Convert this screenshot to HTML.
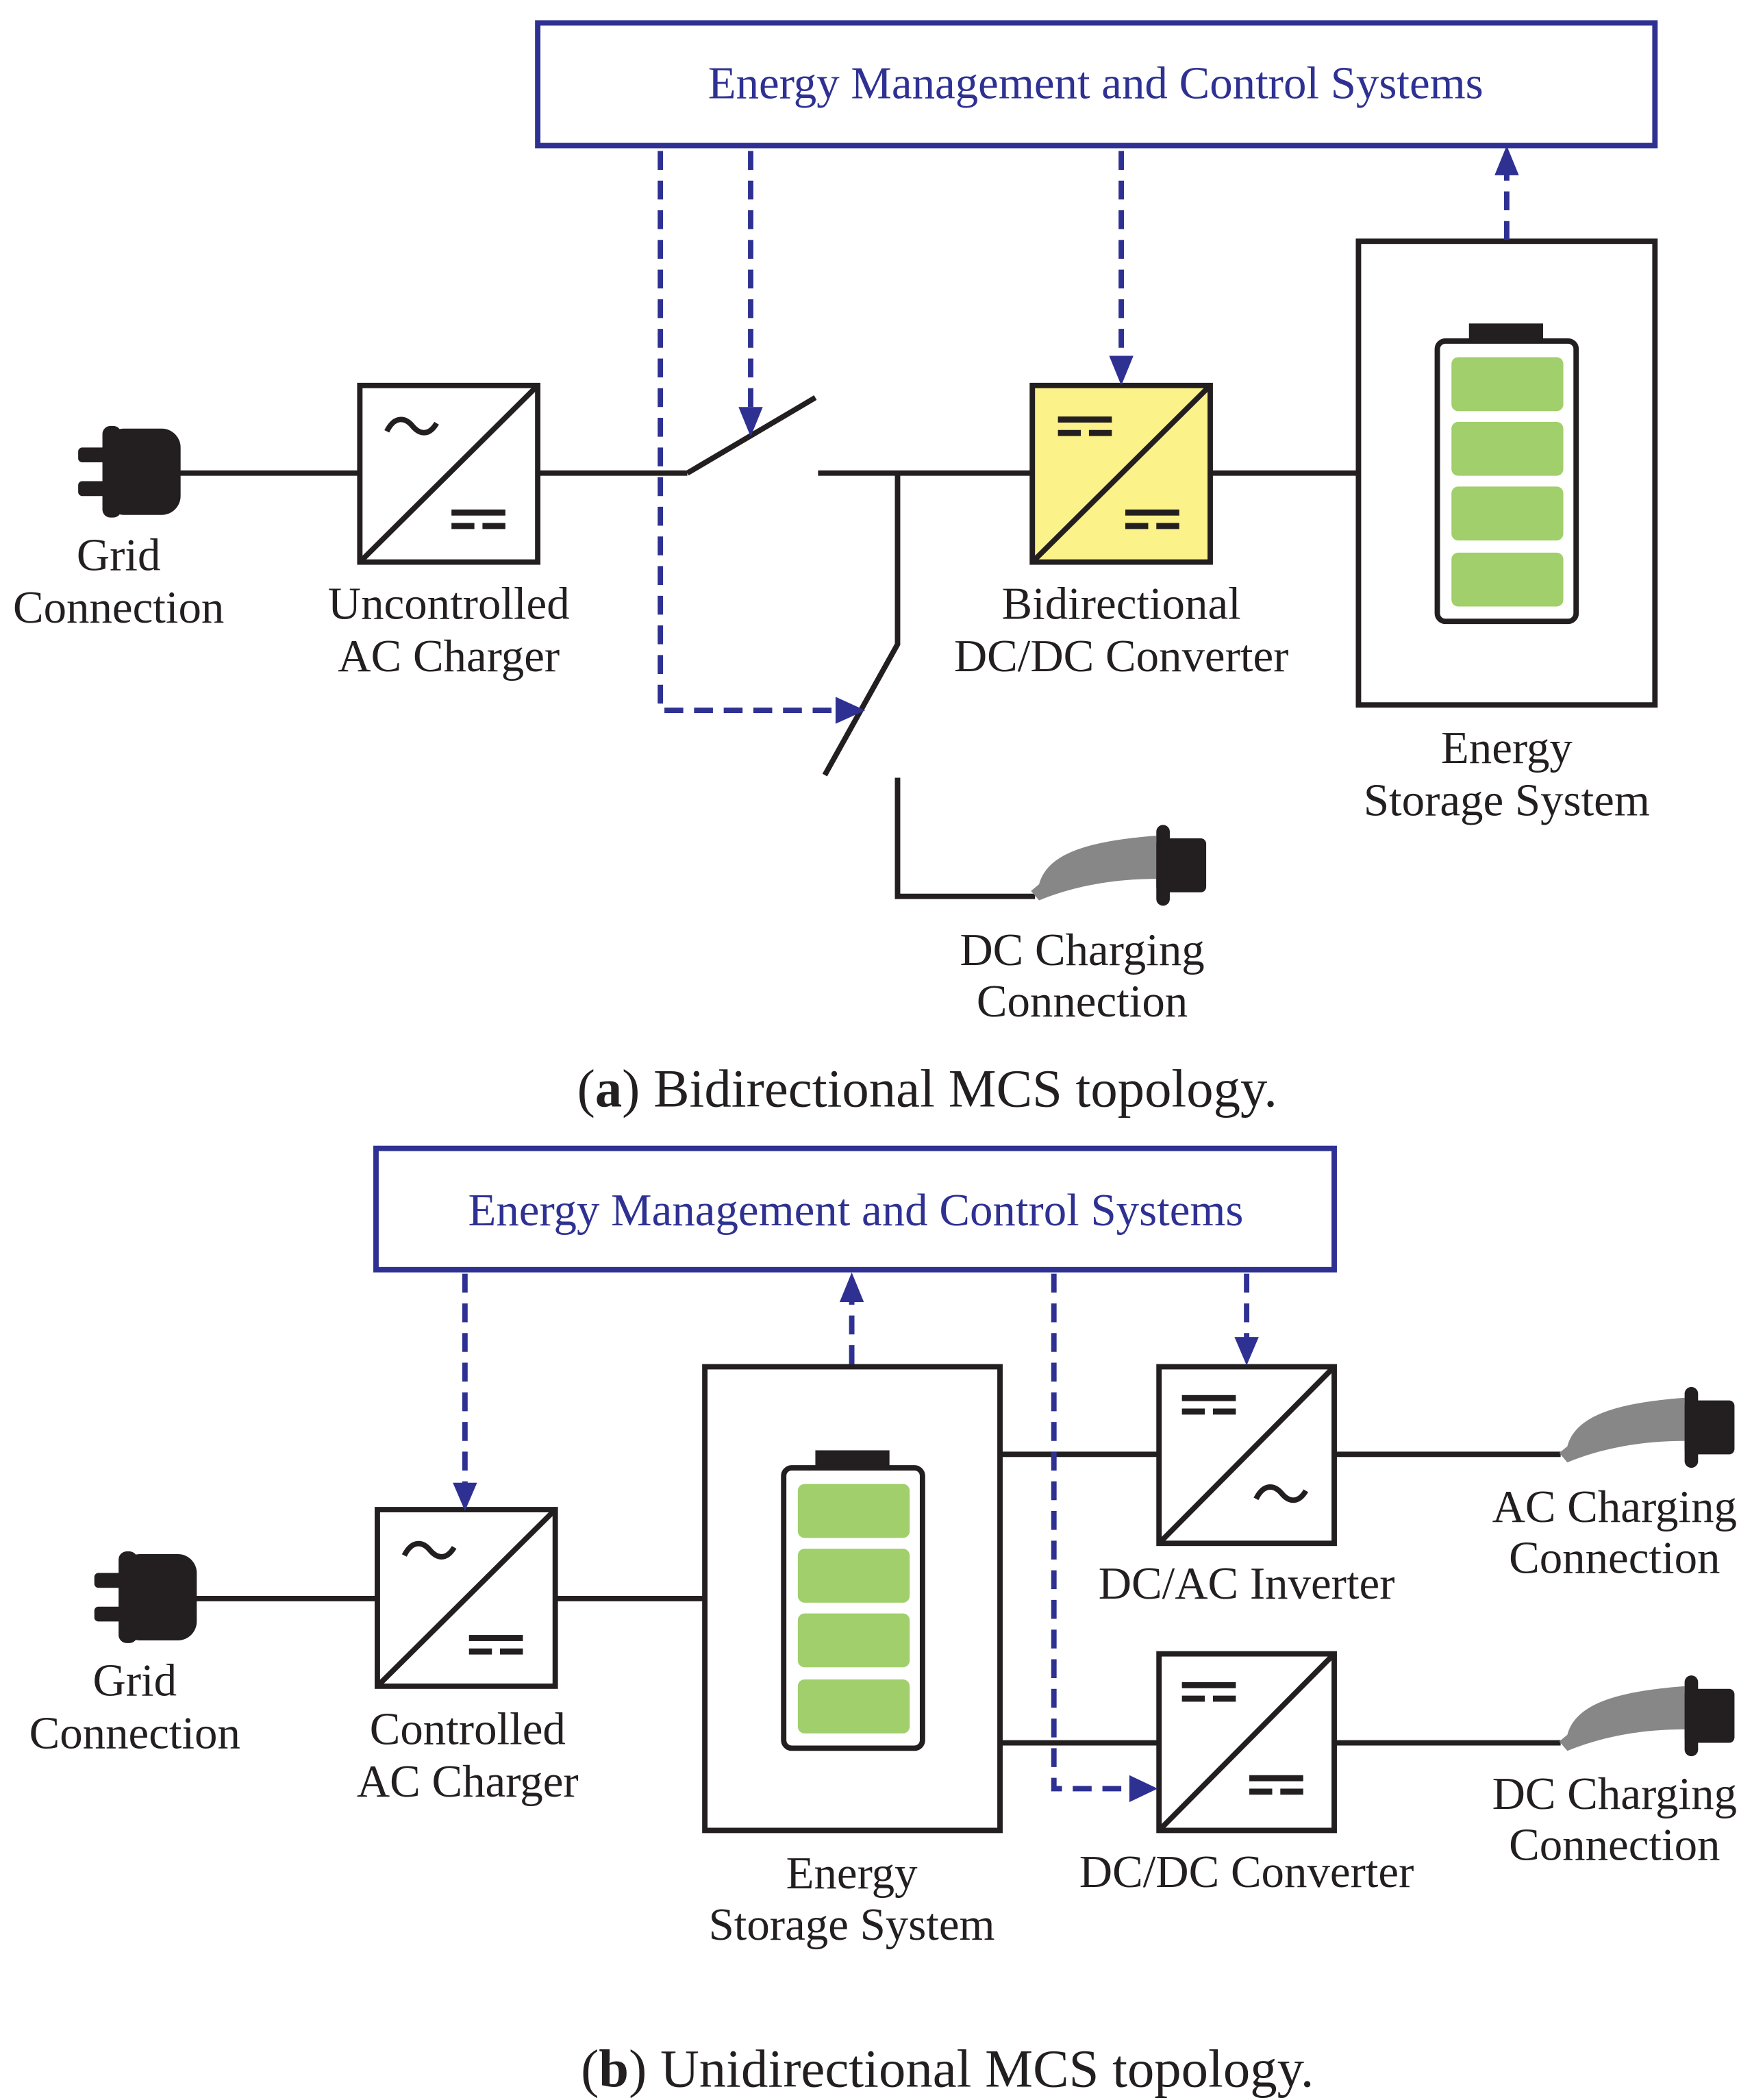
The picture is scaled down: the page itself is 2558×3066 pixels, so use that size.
<!DOCTYPE html>
<html><head><meta charset="utf-8"><style>
html,body{margin:0;padding:0;background:#fff}
svg{display:block}
text{font-family:"Liberation Serif",serif;font-size:34px;fill:#231f20;text-anchor:middle}
.b{fill:#2e3192}
</style></head><body>
<svg width="2558" height="3066" viewBox="0 0 1300 1558" preserveAspectRatio="none" xmlns="http://www.w3.org/2000/svg">
<defs>
<g id="plug"><rect x="20" y="0" width="56" height="64" rx="14" fill="#231f20"/><rect x="18" y="-2" width="14" height="68" rx="6" fill="#231f20"/><rect x="0" y="14" width="24" height="11" rx="3" fill="#231f20"/><rect x="0" y="39" width="24" height="11" rx="3" fill="#231f20"/></g>
<g id="gun"><path d="M0,45 L6,40 C12,18 40,8 93,4 L93,36 C60,36 30,42 6,52 Z" fill="#878787"/><rect x="93" y="6" width="37" height="40" rx="4" fill="#231f20"/><rect x="93" y="-4" width="10" height="60" rx="5" fill="#231f20"/></g>
<g id="bat"><rect x="25" y="0" width="55" height="14" fill="#231f20"/><rect x="1.5" y="13" width="103" height="208" rx="6" fill="#fff" stroke="#231f20" stroke-width="4"/><rect x="12" y="25" width="83" height="40" rx="5" fill="#a0cf6b"/><rect x="12" y="73" width="83" height="40" rx="5" fill="#a0cf6b"/><rect x="12" y="121" width="83" height="40" rx="5" fill="#a0cf6b"/><rect x="12" y="170" width="83" height="40" rx="5" fill="#a0cf6b"/></g>
<path id="tilde" d="M0,8 C6,-4 14,-2 19,4 C24,10 31,12 37,2" fill="none" stroke="#231f20" stroke-width="4"/>
<g id="dc"><rect x="0" y="0" width="40" height="4.5" fill="#231f20"/><rect x="0" y="10" width="17" height="4.5" fill="#231f20"/><rect x="23" y="10" width="17" height="4.5" fill="#231f20"/></g>
</defs>
<g fill="none" stroke="#231f20" stroke-width="4">
<line x1="130" y1="351" x2="267" y2="351"/>
<line x1="399" y1="351" x2="510" y2="351"/>
<line x1="510" y1="351" x2="605" y2="295"/>
<line x1="607" y1="351" x2="766" y2="351"/>
<polyline points="666,351 666,478 612,575"/>
<polyline points="666,577 666,665 768,665"/>
<line x1="898" y1="351" x2="1008" y2="351"/>
<rect x="267" y="286" width="132" height="131" fill="#fff"/>
<line x1="267" y1="417" x2="399" y2="286"/>
<rect x="766" y="286" width="132" height="131" fill="#fbf28a"/>
<line x1="766" y1="417" x2="898" y2="286"/>
<rect x="1008" y="179" width="220" height="344" fill="#fff"/>
<line x1="140" y1="1186" x2="280" y2="1186"/>
<line x1="412" y1="1186" x2="523" y2="1186"/>
<line x1="742" y1="1079" x2="860" y2="1079"/>
<line x1="742" y1="1293" x2="860" y2="1293"/>
<line x1="990" y1="1079" x2="1158" y2="1079"/>
<line x1="990" y1="1293" x2="1158" y2="1293"/>
<rect x="280" y="1120" width="132" height="131" fill="#fff"/>
<line x1="280" y1="1251" x2="412" y2="1120"/>
<rect x="523" y="1014" width="219" height="344" fill="#fff"/>
<rect x="860" y="1014" width="130" height="131" fill="#fff"/>
<line x1="860" y1="1145" x2="990" y2="1014"/>
<rect x="860" y="1227" width="130" height="131" fill="#fff"/>
<line x1="860" y1="1358" x2="990" y2="1227"/>
</g>
<use href="#plug" x="58" y="318"/>
<use href="#tilde" x="287" y="312"/>
<use href="#dc" x="335" y="378"/>
<use href="#dc" x="785" y="309"/>
<use href="#dc" x="835" y="378"/>
<use href="#bat" x="1065" y="240"/>
<use href="#gun" x="765" y="616"/>
<use href="#plug" x="70" y="1153"/>
<use href="#tilde" x="300" y="1146"/>
<use href="#dc" x="348" y="1213"/>
<use href="#bat" x="580" y="1076"/>
<use href="#dc" x="877" y="1035"/>
<use href="#tilde" x="932" y="1104"/>
<use href="#dc" x="877" y="1248"/>
<use href="#dc" x="927" y="1317"/>
<use href="#gun" x="1157" y="1033"/>
<use href="#gun" x="1157" y="1247"/>
<g fill="none" stroke="#2e3192" stroke-width="4">
<rect x="399" y="17" width="829" height="91"/>
<rect x="279" y="852" width="711" height="90"/>
</g>
<g fill="none" stroke="#2e3192" stroke-width="4" stroke-dasharray="14,8">
<polyline points="490,112 490,527 622,527"/>
<line x1="557" y1="112" x2="557" y2="304"/>
<line x1="832" y1="112" x2="832" y2="266"/>
<line x1="1118" y1="178" x2="1118" y2="128"/>
<line x1="345" y1="945" x2="345" y2="1102"/>
<line x1="632" y1="1012" x2="632" y2="964"/>
<polyline points="782,945 782,1327 840,1327"/>
<line x1="925" y1="945" x2="925" y2="994"/>
</g>
<g fill="#2e3192">
<polygon points="548,302 566,302 557,324"/>
<polygon points="823,264 841,264 832,286"/>
<polygon points="1109,130 1127,130 1118,108"/>
<polygon points="620,517 620,537 642,527"/>
<polygon points="336,1100 354,1100 345,1121"/>
<polygon points="623,966 641,966 632,944"/>
<polygon points="916,992 934,992 925,1013"/>
<polygon points="838,1317 838,1337 859,1327"/>
</g>
<text class="b" x="813" y="73">Energy Management and Control Systems</text>
<text x="88" y="423">Grid</text><text x="88" y="462">Connection</text>
<text x="333" y="459">Uncontrolled</text><text x="333" y="498">AC Charger</text>
<text x="832" y="459">Bidirectional</text><text x="832" y="498">DC/DC Converter</text>
<text x="1118" y="566">Energy</text><text x="1118" y="605">Storage System</text>
<text x="803" y="716">DC Charging</text><text x="803" y="754">Connection</text>
<text x="688" y="821" style="font-size:40px">(<tspan font-weight="bold">a</tspan>) Bidirectional MCS topology.</text>
<text class="b" x="635" y="909">Energy Management and Control Systems</text>
<text x="100" y="1258">Grid</text><text x="100" y="1297">Connection</text>
<text x="347" y="1294">Controlled</text><text x="347" y="1333">AC Charger</text>
<text x="632" y="1401">Energy</text><text x="632" y="1439">Storage System</text>
<text x="925" y="1186">DC/AC Inverter</text>
<text x="925" y="1400">DC/DC Converter</text>
<text x="1198" y="1129">AC Charging</text><text x="1198" y="1167">Connection</text>
<text x="1198" y="1342">DC Charging</text><text x="1198" y="1380">Connection</text>
<text x="703" y="1548" style="font-size:40px">(<tspan font-weight="bold">b</tspan>) Unidirectional MCS topology.</text>
</svg>
</body></html>
